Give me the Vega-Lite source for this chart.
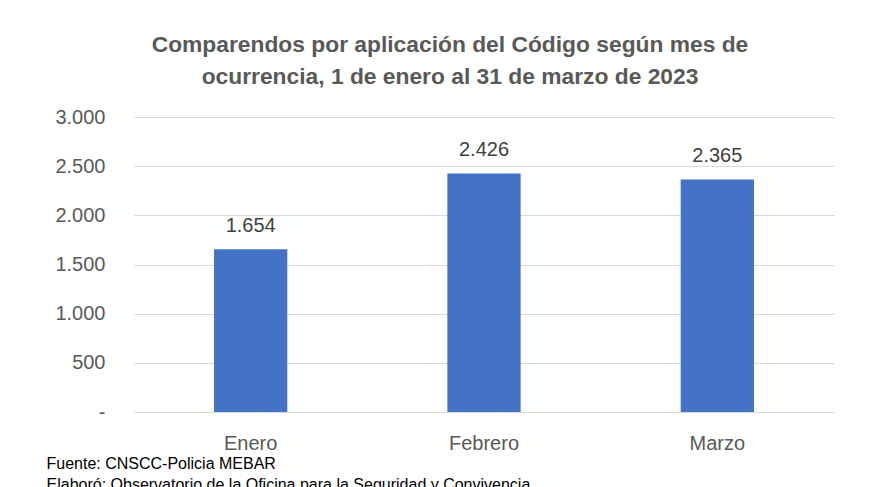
{
  "$schema": "https://vega.github.io/schema/vega-lite/v6.json",
  "width": 700,
  "height": 295,
  "autosize": {"type": "none"},
  "padding": {"left": 134, "top": 117, "right": 44, "bottom": 75},
  "background": "white",
  "config": {
    "locale": {"number": {"decimal": ",", "thousands": ".", "grouping": [3], "currency": ["$", ""]}},
    "view": {"stroke": null},
    "font": "Liberation Sans"
  },
  "title": {
    "text": ["Comparendos por aplicación del Código según mes de", "ocurrencia, 1 de enero al 31 de marzo de 2023"],
    "fontSize": 22.8,
    "fontWeight": "bold",
    "color": "#595959",
    "lineHeight": 32,
    "anchor": "middle",
    "dx": -34,
    "offset": 18
  },
  "data": {
    "values": [
      {"mes": "Enero", "comparendos": 1654},
      {"mes": "Febrero", "comparendos": 2426},
      {"mes": "Marzo", "comparendos": 2365}
    ]
  },
  "encoding": {
    "x": {
      "field": "mes",
      "type": "nominal",
      "sort": null,
      "scale": {"paddingInner": 0.686, "paddingOuter": 0.343},
      "axis": {
        "labelAngle": 0,
        "labelFontSize": 20,
        "labelColor": "#595959",
        "labelPadding": 21,
        "ticks": false,
        "domainColor": "#d9d9d9",
        "domainWidth": 1,
        "title": ["Fuente: CNSCC-Policia MEBAR", "Elaboró: Observatorio de la Oficina para la Seguridad y Convivencia"],
        "titleFontSize": 16,
        "titleFontWeight": "normal",
        "titleColor": "#000000",
        "titleAlign": "left",
        "titleAnchor": "start",
        "titleBaseline": "alphabetic",
        "titleLineHeight": 21,
        "titleX": -88,
        "titleY": 56
      }
    },
    "y": {
      "field": "comparendos",
      "type": "quantitative",
      "scale": {"domain": [0, 3000], "nice": false},
      "axis": {
        "values": [0, 500, 1000, 1500, 2000, 2500, 3000],
        "format": ",.0f",
        "labelExpr": "datum.value == 0 ? '-\u00a0\u00a0\u00a0\u00a0\u00a0' : datum.label",
        "labelFontSize": 20,
        "labelColor": "#595959",
        "labelPadding": 29,
        "ticks": false,
        "domain": false,
        "grid": true,
        "gridColor": "#d9d9d9",
        "gridWidth": 1,
        "title": null
      }
    }
  },
  "layer": [
    {"mark": {"type": "bar", "color": "#4472C4"}},
    {
      "mark": {"type": "text", "fontSize": 20, "color": "#404040", "baseline": "alphabetic", "dy": -17},
      "encoding": {"text": {"field": "comparendos", "type": "quantitative", "format": ",.0f"}}
    }
  ]
}
